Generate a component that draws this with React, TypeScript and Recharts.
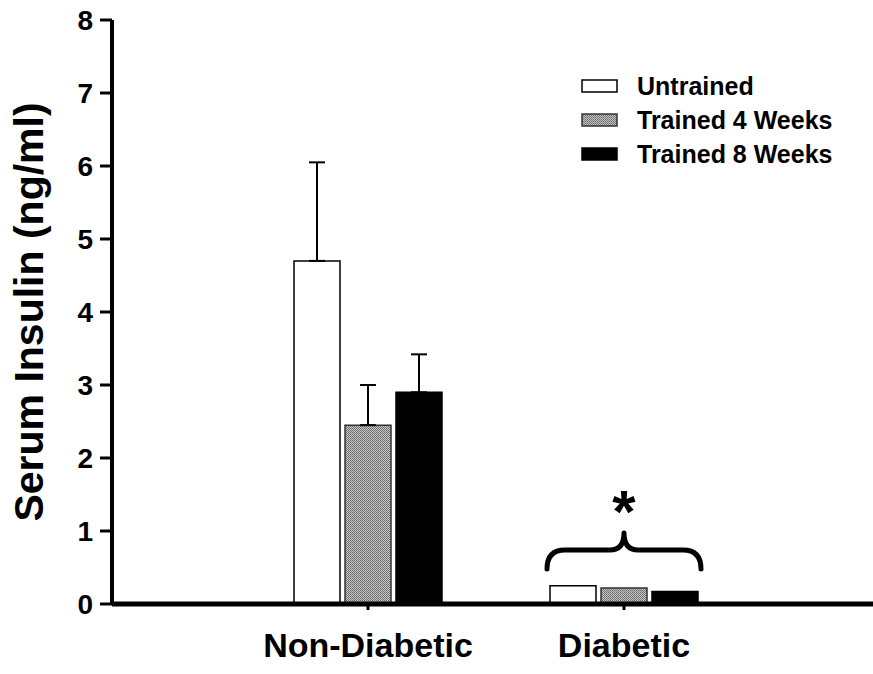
import { Bar, BarChart, ErrorBar, Legend, ReferenceDot, XAxis, YAxis } from 'recharts';

const groups = ['Non-Diabetic', 'Diabetic'];
const seriesNames = ['Untrained', 'Trained 4 Weeks', 'Trained 8 Weeks'];
const untrained = [4.7, 0.25];
const trained4 = [2.45, 0.22];
const trained8 = [2.9, 0.17];
// upper error only (SEM), none drawn for the diabetic group
const untrainedErr = [1.35, null];
const trained4Err = [0.55, null];
const trained8Err = [0.52, null];
const yTicks = [0, 1, 2, 3, 4, 5, 6, 7, 8];
const starText = '*';
const braceLevel = 0.74;
const starLevel = 1.41;

const FONT = '"Liberation Sans", Arial, Helvetica, sans-serif';
const fills = ['#ffffff', 'url(#dots)', '#000000'];
const strokes = ['#000000', '#333333', '#000000'];

const upOnly = (v: number | null) => (v == null ? null : [0, v]);

const data = groups.map((g, i) => ({
    name: g,
    u: untrained[i],
    t4: trained4[i],
    t8: trained8[i],
    uErr: upOnly(untrainedErr[i]),
    t4Err: upOnly(trained4Err[i]),
    t8Err: upOnly(trained8Err[i]),
}));

const YLabel = (props: any) => {
    const vb = props.viewBox;
    return (
        <text
            x={vb.x + 43}
            y={vb.y + vb.height / 2}
            transform={`rotate(-90, ${vb.x + 43}, ${vb.y + vb.height / 2})`}
            textAnchor="middle"
            fontFamily={FONT}
            fontWeight="bold"
            fontSize={41}
            fill="#000"
        >
            Serum Insulin (ng/ml)
        </text>
    );
};

const YTick = (props: any) => {
    const { x, y, payload } = props;
    return (
        <text x={x} y={y} dy={10} textAnchor="end" fontFamily={FONT} fontWeight="bold" fontSize={28} fill="#000">
            {payload.value}
        </text>
    );
};

const Brace = (props: any) => {
    const { cx, cy } = props;
    const w = 77, h = 19, tip = 17;
    const d = `M${cx - w},${cy + h} Q${cx - w},${cy} ${cx - w + 18},${cy} L${cx - 14},${cy} Q${cx},${cy} ${cx},${cy - tip} Q${cx},${cy} ${cx + 14},${cy} L${cx + w - 18},${cy} Q${cx + w},${cy} ${cx + w},${cy + h}`;
    return <path d={d} fill="none" stroke="#000" strokeWidth={5} strokeLinecap="round" strokeLinejoin="round" />;
};

const Star = (props: any) => (
    <text x={props.cx} y={props.cy + 31} textAnchor="middle" fontFamily={FONT} fontWeight="bold" fontSize={60} fill="#000">
        {starText}
    </text>
);

// legend drawn in series order (recharts sorts the payload by name otherwise)
const renderLegend = () => (
    <div style={{ fontFamily: FONT, fontWeight: 'bold', fontSize: 25, color: '#000' }}>
        {seriesNames.map((name, i) => (
            <div key={name} style={{ display: 'flex', alignItems: 'center', height: 34 }}>
                <svg width={37} height={14} style={{ marginRight: 19 }}>
                    <rect x={1} y={1} width={35} height={12} fill={fills[i]} stroke={strokes[i]} strokeWidth={1.5} />
                </svg>
                <span>{name}</span>
            </div>
        ))}
    </div>
);

const App = () => {
    return (
        <div style={{ position: 'absolute', left: 0, top: 0, background: '#fff' }}>
            <BarChart
                width={873}
                height={674}
                data={data}
                margin={{ top: 20, right: 0, left: 0, bottom: 0 }}
                barSize={46}
                barGap={5}
            >
                <defs>
                    <pattern id="dots" width={2} height={2} patternUnits="userSpaceOnUse">
                        <rect width={2} height={2} fill="#c4c4c4" />
                        <rect width={1} height={1} fill="#6a6a6a" />
                        <rect x={1} y={1} width={1} height={1} fill="#7a7a7a" />
                    </pattern>
                </defs>
                <XAxis
                    dataKey="name"
                    height={70}
                    interval={0}
                    padding={{ left: 128, right: 121 }}
                    tickSize={6}
                    tickMargin={23}
                    axisLine={{ stroke: '#000', strokeWidth: 5 }}
                    tickLine={{ stroke: '#000', strokeWidth: 3 }}
                    tick={{ fill: '#000', fontSize: 34, fontWeight: 'bold', fontFamily: FONT }}
                />
                <YAxis
                    domain={[0, 8]}
                    ticks={yTicks}
                    interval={0}
                    width={112}
                    tickSize={12}
                    tickMargin={7}
                    axisLine={{ stroke: '#000', strokeWidth: 4 }}
                    tickLine={{ stroke: '#000', strokeWidth: 3 }}
                    tick={<YTick />}
                    label={<YLabel />}
                />
                <Legend
                    content={renderLegend}
                    layout="vertical"
                    align="center"
                    verticalAlign="middle"
                    wrapperStyle={{ top: 69, left: 581, width: 'auto' }}
                />
                <Bar dataKey="u" name={seriesNames[0]} fill={fills[0]} stroke={strokes[0]} strokeWidth={1.5} isAnimationActive={false}>
                    <ErrorBar dataKey="uErr" width={8} stroke="#000" strokeWidth={2} isAnimationActive={false} />
                </Bar>
                <Bar dataKey="t4" name={seriesNames[1]} fill={fills[1]} stroke={strokes[1]} strokeWidth={1.5} isAnimationActive={false}>
                    <ErrorBar dataKey="t4Err" width={8} stroke="#000" strokeWidth={2} isAnimationActive={false} />
                </Bar>
                <Bar dataKey="t8" name={seriesNames[2]} fill={fills[2]} stroke={strokes[2]} strokeWidth={1.5} isAnimationActive={false}>
                    <ErrorBar dataKey="t8Err" width={8} stroke="#000" strokeWidth={2} isAnimationActive={false} />
                </Bar>
                <ReferenceDot x={groups[1]} y={braceLevel} r={0} shape={Brace} />
                <ReferenceDot x={groups[1]} y={starLevel} r={0} shape={Star} />
            </BarChart>
        </div>
    );
};

export default App;
